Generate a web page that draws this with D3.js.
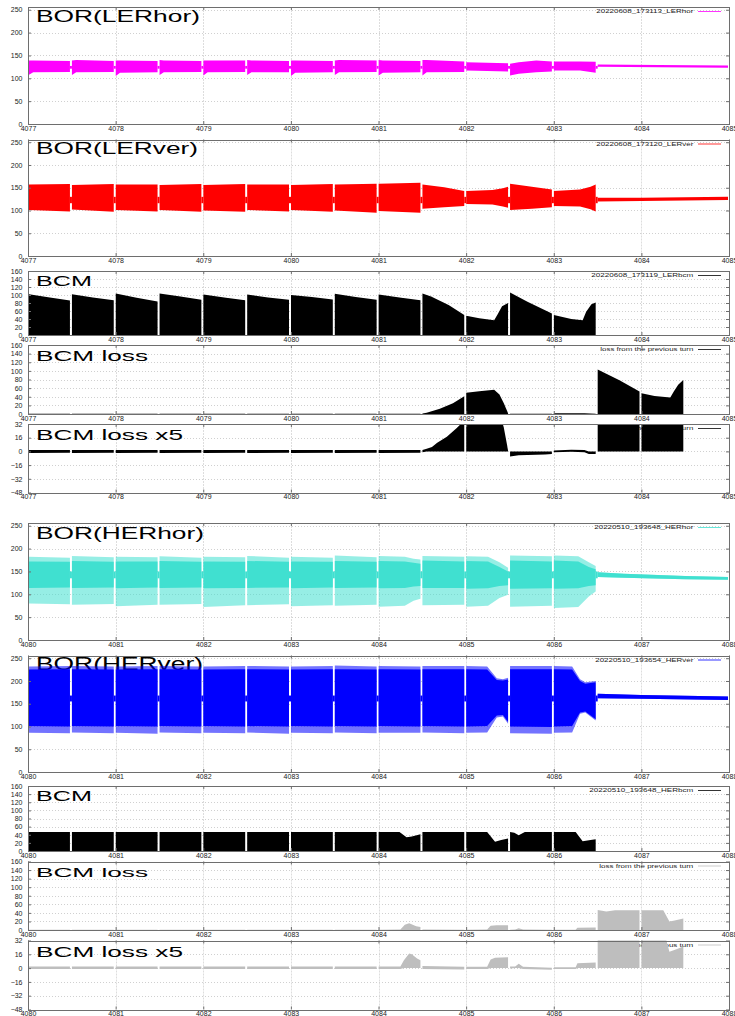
<!DOCTYPE html>
<html>
<head>
<meta charset="utf-8">
<script src="https://cdnjs.cloudflare.com/ajax/libs/d3/7.8.5/d3.min.js"></script>
<style>
  body { margin: 0; background: #fff; }
  text { font-family: "Liberation Sans", Arial, sans-serif; }
</style>
</head>
<body>
<svg id="chart" width="735" height="1016"></svg>
<script>
/*
  BOR / BCM turn-by-turn plots, LER (top five) and HER (bottom five)
  every train is a list of rows [turn, low, high],
  BOR(HER) rows carry an extra [coreLow, coreHigh] for the dense part of the band
*/

// x ticks
var lerTurns = [4077, 4078, 4079, 4080, 4081, 4082, 4083, 4084, 4085];
var herTurns = [4080, 4081, 4082, 4083, 4084, 4085, 4086, 4087, 4088];

// y ticks
var borTicks = [0, 50, 100, 150, 200, 250];
var bcmTicks = [0, 20, 40, 60, 80, 100, 120, 140, 160];
var lossTicks = [-48, -32, -16, 0, 16, 32];

// LER horizontal BOR
var lerHor = [
  [[4077.00,108,139],[4077.06,113,139],[4077.49,114,138]],
  [[4077.49,107,139],[4077.55,113,140],[4077.99,114,138]],
  [[4077.99,105,139],[4078.05,112,139],[4078.49,113,138]],
  [[4078.49,107,140],[4078.55,113,139],[4078.99,114,138]],
  [[4078.99,106,139],[4079.05,113,139],[4079.49,114,139]],
  [[4079.49,107,140],[4079.55,113,139],[4079.99,113,138]],
  [[4079.99,105,139],[4080.05,112,139],[4080.49,113,138]],
  [[4080.49,107,139],[4080.55,113,140],[4080.99,114,139]],
  [[4080.99,106,140],[4081.05,112,139],[4081.49,113,138]],
  [[4081.49,106,140],[4081.55,113,140],[4081.99,114,137]],
  [[4081.99,117,135],[4082.49,115,133]],
  [[4082.49,106,132],[4082.60,110,135],[4082.80,113,139],[4082.99,115,137]],
  [[4082.99,117,137],[4083.30,117,137],[4083.49,112,136]],
  [[4083.49,125,130],[4084.20,124,129],[4085.00,123,128]]
];
var lerHorGap = [121, 127];

// LER vertical BOR
var lerVer = [
  [[4077.00,101,157],[4077.49,98,158]],
  [[4077.49,102,156],[4077.99,97,158]],
  [[4077.99,101,157],[4078.49,98,157]],
  [[4078.49,101,156],[4078.99,97,158]],
  [[4078.99,100,156],[4079.49,97,158]],
  [[4079.49,101,157],[4079.99,98,157]],
  [[4079.99,101,156],[4080.49,97,158]],
  [[4080.49,100,157],[4080.99,95,159]],
  [[4080.99,99,159],[4081.49,95,161]],
  [[4081.49,104,157],[4081.75,107,151],[4081.99,110,143]],
  [[4081.99,114,143],[4082.30,113,145],[4082.42,109,149],[4082.49,106,152]],
  [[4082.49,101,159],[4082.75,104,152],[4082.99,107,146]],
  [[4082.99,110,143],[4083.30,109,146],[4083.42,103,152],[4083.49,98,157]],
  [[4083.49,120,128],[4084.00,121,128],[4085.00,123,130]]
];
var lerVerGap = [116, 130];

// LER bunch current
var lerBcm = [
  [[4077.00,0,102],[4077.25,0,94],[4077.49,0,86]],
  [[4077.49,0,102],[4077.74,0,94],[4077.99,0,87]],
  [[4077.99,0,104],[4078.24,0,93],[4078.49,0,84]],
  [[4078.49,0,104],[4078.74,0,96],[4078.99,0,88]],
  [[4078.99,0,101],[4079.24,0,94],[4079.49,0,87]],
  [[4079.49,0,101],[4079.74,0,94],[4079.99,0,88]],
  [[4079.99,0,100],[4080.24,0,95],[4080.49,0,89]],
  [[4080.49,0,103],[4080.74,0,95],[4080.99,0,88]],
  [[4080.99,0,101],[4081.24,0,94],[4081.49,0,87]],
  [[4081.49,0,104],[4081.60,0,96],[4081.80,0,75],[4081.99,0,50]],
  [[4081.99,0,48],[4082.15,0,42],[4082.32,0,37],[4082.36,0,52],[4082.41,0,72],[4082.49,0,80]],
  [[4082.49,0,106],[4082.70,0,83],[4082.99,0,54]],
  [[4082.99,0,50],[4083.20,0,40],[4083.33,0,37],[4083.37,0,58],[4083.43,0,77],[4083.49,0,81]]
];

// LER loss from the previous turn
var lerLoss = [
  [[4077.00,0,0.8],[4077.49,0,0.8]],
  [[4077.49,0,0.8],[4077.99,0,0.8]],
  [[4077.99,0,0.8],[4078.49,0,0.8]],
  [[4078.49,0,0.8],[4078.99,0,0.8]],
  [[4078.99,0,0.8],[4079.49,0,0.8]],
  [[4079.49,0,0.8],[4079.99,0,0.8]],
  [[4079.99,0,0.8],[4080.49,0,0.8]],
  [[4080.49,0,0.8],[4080.99,0,0.8]],
  [[4080.99,0,0.8],[4081.49,0,0.8]],
  [[4081.49,0,1],[4081.55,0,3],[4081.70,0,12],[4081.85,0,25],[4081.99,0,41]],
  [[4081.99,0,49],[4082.15,0,53],[4082.32,0,56],[4082.38,0,45],[4082.43,0,25],[4082.49,0,2]],
  [[4082.49,0,0.5],[4082.99,0,0.5]],
  [[4082.99,0,1.5],[4083.35,0,1.5],[4083.49,0,0.5]],
  [[4083.49,0,103],[4083.75,0,78],[4083.99,0,52]],
  [[4083.99,0,48],[4084.15,0,42],[4084.33,0,38],[4084.37,0,52],[4084.42,0,68],[4084.49,0,79]]
];

// LER loss, zoomed axis
var lerLoss5 = [
  [[4077.00,-2,1.5],[4077.49,-1.5,1.5]],
  [[4077.49,-2,1.5],[4077.99,-1.5,1.5]],
  [[4077.99,-2,1.5],[4078.49,-1.5,1.5]],
  [[4078.49,-2,1.5],[4078.99,-1.5,1.5]],
  [[4078.99,-2,1.5],[4079.49,-1.5,1.5]],
  [[4079.49,-2,1.5],[4079.99,-1.5,1.5]],
  [[4079.99,-2,1.5],[4080.49,-1.5,1.5]],
  [[4080.49,-2,1.5],[4080.99,-1.5,1.5]],
  [[4080.99,-2,1.5],[4081.49,-1.5,1.5]],
  [[4081.49,-1,1.5],[4081.55,0,3],[4081.61,0,5],[4081.67,0,10],[4081.78,0,17],[4081.89,0,27],[4081.95,0,33],[4081.99,0,40]],
  [[4081.99,0,49],[4082.32,0,56],[4082.38,0,45],[4082.43,0,28],[4082.49,0,1]],
  [[4082.49,-6,0],[4082.60,-4.5,0],[4082.90,-3.5,0],[4082.99,-3,0]],
  [[4082.99,-1,1],[4083.20,-0.5,2],[4083.35,-1,1.5],[4083.40,-3,0],[4083.49,-3,0]],
  [[4083.49,0,103],[4083.99,0,52]],
  [[4083.99,0,48],[4084.33,0,38],[4084.49,0,79]]
];

// HER horizontal BOR [turn, low, high, coreLow, coreHigh]
var herHor = [
  [[4080.00,80,182,114,172],[4080.49,78,180,115,171]],
  [[4080.49,77,184,114,173],[4080.99,79,181,115,171]],
  [[4080.99,74,182,113,172],[4081.49,77,181,115,172]],
  [[4081.49,77,183,114,173],[4081.99,79,180,115,171]],
  [[4081.99,72,182,113,172],[4082.49,76,181,114,171]],
  [[4082.49,76,184,114,173],[4082.99,78,180,115,171]],
  [[4082.99,74,182,113,172],[4083.49,76,180,115,171]],
  [[4083.49,75,185,114,173],[4083.99,77,181,115,171]],
  [[4083.99,73,184,113,173],[4084.30,75,182,114,172],[4084.40,86,178,117,169],[4084.49,90,176,118,167]],
  [[4084.49,76,184,114,174],[4084.99,77,182,114,172]],
  [[4084.99,73,183,112,173],[4085.25,75,182,113,172],[4085.38,92,170,118,160],[4085.49,99,158,120,150]],
  [[4085.49,73,185,112,174],[4085.99,75,183,113,172]],
  [[4085.99,70,185,112,174],[4086.28,72,183,113,172],[4086.40,95,170,118,160],[4086.49,106,162,120,155]],
  [[4086.49,138,148,138,148],[4086.80,136,145,136,145],[4087.50,133,140,133,140],[4088.00,132,138,132,138]]
];
var herHorGap = [135, 150];

// HER vertical BOR [turn, low, high, coreLow, coreHigh]
var herVer = [
  [[4080.00,86,232,101,225],[4080.49,85,233,100,226]],
  [[4080.49,87,233,101,226],[4080.99,85,232,100,225]],
  [[4080.99,86,232,101,225],[4081.49,84,233,100,226]],
  [[4081.49,87,233,101,226],[4081.99,85,232,100,225]],
  [[4081.99,86,232,101,225],[4082.49,85,233,100,226]],
  [[4082.49,87,233,101,226],[4082.99,84,232,100,225]],
  [[4082.99,86,232,101,225],[4083.49,85,233,100,226]],
  [[4083.49,87,234,101,226],[4083.99,85,232,100,225]],
  [[4083.99,86,233,101,226],[4084.49,86,232,100,225]],
  [[4084.49,87,233,101,226],[4084.99,85,233,100,226]],
  [[4084.99,86,233,100,226],[4085.24,87,232,101,225],[4085.35,120,206,124,202],[4085.42,122,204,125,201],[4085.49,106,207,110,203]],
  [[4085.49,85,233,100,226],[4085.99,84,233,99,226]],
  [[4085.99,86,233,100,226],[4086.21,87,232,101,225],[4086.30,128,204,131,200],[4086.36,131,197,133,194],[4086.49,113,200,116,197]],
  [[4086.49,162,172,162,172],[4087.00,161,169,161,169],[4088.00,158,166,158,166]]
];
var herVerGap = [155, 168];

// HER bunch current
var herBcm = [
  [[4080.00,0,47],[4080.49,0,47]],
  [[4080.49,0,47],[4080.99,0,47]],
  [[4080.99,0,47],[4081.49,0,47]],
  [[4081.49,0,47],[4081.99,0,47]],
  [[4081.99,0,47],[4082.49,0,47]],
  [[4082.49,0,47],[4082.99,0,47]],
  [[4082.99,0,47],[4083.49,0,47]],
  [[4083.49,0,47],[4083.99,0,47]],
  [[4083.99,0,47],[4084.24,0,47],[4084.32,0,34],[4084.38,0,36],[4084.49,0,41]],
  [[4084.49,0,47],[4084.99,0,47]],
  [[4084.99,0,47],[4085.24,0,47],[4085.33,0,23],[4085.40,0,27],[4085.49,0,31]],
  [[4085.49,0,47],[4085.55,0,45],[4085.60,0,39],[4085.67,0,47],[4085.99,0,47]],
  [[4085.99,0,47],[4086.25,0,47],[4086.33,0,24],[4086.42,0,27],[4086.49,0,29]]
];

// HER loss from the previous turn
var herLoss = [
  [[4080.00,0,0.6],[4080.49,0,0.6]],
  [[4080.49,0,0.6],[4080.99,0,0.6]],
  [[4080.99,0,0.6],[4081.49,0,0.6]],
  [[4081.49,0,0.6],[4081.99,0,0.6]],
  [[4081.99,0,0.6],[4082.49,0,0.6]],
  [[4082.49,0,0.6],[4082.99,0,0.6]],
  [[4082.99,0,0.6],[4083.49,0,0.6]],
  [[4083.49,0,0.6],[4083.99,0,0.6]],
  [[4083.99,0,0.5],[4084.25,0,1],[4084.30,0,12],[4084.35,0,16],[4084.43,0,9],[4084.49,0,7]],
  [[4084.49,0,1],[4084.99,0,0.5]],
  [[4084.99,0,0.5],[4085.24,0,1],[4085.28,0,10],[4085.35,0,11],[4085.49,0,11]],
  [[4085.49,0,0.5],[4085.56,0,1],[4085.60,0,4],[4085.65,0,1],[4085.99,0,0.5]],
  [[4085.99,0,0.5],[4086.25,0,0.5],[4086.27,0,5],[4086.49,0,6]],
  [[4086.49,0,47],[4086.60,0,43],[4086.70,0,46],[4086.99,0,46]],
  [[4086.99,0,46],[4087.25,0,46],[4087.32,0,20],[4087.38,0,22],[4087.49,0,27]]
];

// HER loss, zoomed axis
var herLoss5 = [
  [[4080.00,-1,2],[4080.49,-1,2]],
  [[4080.49,-1,2],[4080.99,-1,2]],
  [[4080.99,-1,2],[4081.49,-1,2]],
  [[4081.49,-1,2],[4081.99,-1,2]],
  [[4081.99,-1,2],[4082.49,-1,2]],
  [[4082.49,-1,2],[4082.99,-1,2]],
  [[4082.99,-1,2],[4083.49,-1,2]],
  [[4083.49,-1,2],[4083.99,-1,2]],
  [[4083.99,-1,2],[4084.25,-1,2],[4084.29,0,9],[4084.35,0,17],[4084.38,0,16],[4084.44,0,11],[4084.49,0,9]],
  [[4084.49,-1,2.5],[4084.99,-1.5,1.5]],
  [[4084.99,-1,1.5],[4085.24,-1,1.5],[4085.28,0,10],[4085.33,0,12],[4085.49,0,12.5]],
  [[4085.49,-0.5,2],[4085.56,0,2],[4085.60,0,5],[4085.65,-1,1.5],[4085.99,-2,0.5]],
  [[4085.99,-1,1],[4086.25,-1,1],[4086.27,0,5.5],[4086.49,0,6.5]],
  [[4086.49,0,47],[4086.99,0,46]],
  [[4086.99,0,46],[4087.25,0,46],[4087.32,0,19],[4087.40,0,22],[4087.49,0,25]]
];

// legend keys
var keys = ['20220608_173113_LERhor', '20220608_173120_LERver', '20220608_173119_LERbcm',
            'loss from the previous turn', '20220510_193648_HERhor', '20220510_193654_HERver',
            '20220510_193648_HERbcm'];

/*
  panel table: layout in pixels
*/
var X0 = 28, X1 = 729;
var panels = [
  {title: 'BOR(LERhor)', data: lerHor, gap: lerHorGap, turns: lerTurns, ticks: borTicks, dom: [0, 256],
   color: '#ff00ff', key: keys[0], top: 7, bottom: 124, tw: 164, ts: 16.5, tb: 21.7, kw: 97},
  {title: 'BOR(LERver)', data: lerVer, gap: lerVerGap, turns: lerTurns, ticks: borTicks, dom: [0, 256],
   color: '#ff0000', key: keys[1], top: 139.5, bottom: 256, tw: 162, ts: 16.5, tb: 154.2, kw: 97},
  {title: 'BCM', data: lerBcm, turns: lerTurns, ticks: bcmTicks, dom: [0, 160],
   color: '#000000', key: keys[2], top: 271, bottom: 335, tw: 56, ts: 14, tb: 285.5, kw: 102},
  {title: 'BCM loss', data: lerLoss, turns: lerTurns, ticks: bcmTicks, dom: [0, 160],
   color: '#000000', key: keys[3], top: 345, bottom: 414, tw: 112, ts: 14.5, tb: 360.8, kw: 93},
  {title: 'BCM loss x5', data: lerLoss5, turns: lerTurns, ticks: lossTicks, dom: [-48, 32],
   color: '#000000', key: keys[3], top: 424, bottom: 492.5, tw: 147, ts: 14, tb: 440.3, kw: 93},
  {title: 'BOR(HERhor)', data: herHor, gap: herHorGap, turns: herTurns, ticks: borTicks, dom: [0, 256],
   color: '#40e0d0', key: keys[4], top: 523, bottom: 640, tw: 168, ts: 17, tb: 538.5, kw: 99},
  {title: 'BOR(HERver)', data: herVer, gap: herVerGap, turns: herTurns, ticks: borTicks, dom: [0, 256],
   color: '#0000ff', key: keys[5], top: 655.5, bottom: 772, tw: 167, ts: 17.5, tb: 670, kw: 98},
  {title: 'BCM', data: herBcm, turns: herTurns, ticks: bcmTicks, dom: [0, 160],
   color: '#000000', key: keys[6], top: 786, bottom: 851, tw: 56, ts: 14, tb: 801, kw: 104},
  {title: 'BCM loss', data: herLoss, turns: herTurns, ticks: bcmTicks, dom: [0, 160],
   color: '#bebebe', key: keys[3], top: 861.5, bottom: 930, tw: 112, ts: 13, tb: 877, kw: 94},
  {title: 'BCM loss x5', data: herLoss5, turns: herTurns, ticks: lossTicks, dom: [-48, 32],
   color: '#bebebe', key: keys[3], top: 940.5, bottom: 1009.5, tw: 147, ts: 14, tb: 956.7, kw: 94}
];

var svg = d3.select('#chart');
var defs = svg.append('defs');
svg.append('rect').attr('width', 735).attr('height', 1016).attr('fill', '#fff');

// band between two columns of a train, 1px shaved off each end for the gap
function trainPath(x, y, train, lo, hi) {
  var last = train.length - 1;
  var pts = train.map(function(d, k) {
    var px = x(d[0]);
    if (k == 0) px += 1;
    if (k == last) px -= 1;
    return [px, y(d[lo]), y(d[hi])];
  });
  return d3.area()
    .x(function(d) { return d[0]; })
    .y0(function(d) { return d[1]; })
    .y1(function(d) { return d[2]; })(pts);
}

function drawPanel(p, i) {
  var x = d3.scaleLinear().domain([p.turns[0], p.turns[p.turns.length - 1]]).range([X0, X1]);
  var y = d3.scaleLinear().domain(p.dom).range([p.bottom, p.top]);
  var g = svg.append('g');

  defs.append('clipPath').attr('id', 'clip' + i)
    .append('rect')
    .attr('x', X0).attr('y', p.top)
    .attr('width', X1 - X0).attr('height', p.bottom - p.top);

  // grid
  g.selectAll('.hg').data(p.ticks).enter().append('line')
    .attr('x1', X0).attr('x2', X1)
    .attr('y1', function(d) { return Math.round(y(d)) + 0.5; })
    .attr('y2', function(d) { return Math.round(y(d)) + 0.5; })
    .attr('stroke', '#c4c4c4').attr('stroke-width', 0.8)
    .attr('stroke-dasharray', '1,2');
  g.selectAll('.vg').data(p.turns).enter().append('line')
    .attr('x1', function(d) { return Math.round(x(d)) + 0.5; })
    .attr('x2', function(d) { return Math.round(x(d)) + 0.5; })
    .attr('y1', p.top).attr('y2', p.bottom)
    .attr('stroke', '#d4d4d4').attr('stroke-width', 0.8)
    .attr('stroke-dasharray', '2,1');

  // key and title sit under the data
  g.append('text')
    .attr('x', 693.3 - p.kw).attr('y', p.top + 6.3)
    .attr('textLength', p.kw).attr('lengthAdjust', 'spacingAndGlyphs')
    .attr('font-size', 5.6).attr('fill', '#222')
    .text(p.key);
  g.append('line')
    .attr('x1', 698).attr('x2', 721)
    .attr('y1', p.top + 4.5).attr('y2', p.top + 4.5)
    .attr('stroke', p.color).attr('stroke-width', 0.8);
  g.append('text')
    .attr('x', 36).attr('y', p.tb)
    .attr('textLength', p.tw).attr('lengthAdjust', 'spacingAndGlyphs')
    .attr('font-size', p.ts).attr('fill', '#000')
    .text(p.title);

  // data
  var plot = g.append('g').attr('clip-path', 'url(#clip' + i + ')');
  var core = p.data[0][0].length > 3;
  plot.selectAll('.band').data(p.data).enter().append('path')
    .attr('d', function(t) { return trainPath(x, y, t, 1, 2); })
    .attr('fill', p.color)
    .attr('fill-opacity', core ? 0.55 : 1);
  if (core) {
    plot.selectAll('.core').data(p.data).enter().append('path')
      .attr('d', function(t) { return trainPath(x, y, t, 3, 4); })
      .attr('fill', p.color);
  }
  if (p.gap) {
    var joins = p.data.slice(1).map(function(t) { return t[0][0]; });
    plot.selectAll('.gap').data(joins).enter().append('rect')
      .attr('x', function(d) { return x(d) - 1; })
      .attr('width', 2)
      .attr('y', y(p.gap[1]))
      .attr('height', y(p.gap[0]) - y(p.gap[1]))
      .attr('fill', p.color);
  }

  // frame and ticks
  g.append('rect')
    .attr('x', X0 + 0.5).attr('y', Math.round(p.top) + 0.5)
    .attr('width', X1 - X0).attr('height', Math.round(p.bottom) - Math.round(p.top))
    .attr('fill', 'none').attr('stroke', '#6e6e6e').attr('stroke-width', 1);

  var ax = [
    {a: d3.axisBottom(x).tickValues(p.turns).tickFormat(d3.format('d')).tickPadding(1.7), t: 'translate(0,' + p.bottom + ')'},
    {a: d3.axisTop(x).tickValues(p.turns).tickFormat(''), t: 'translate(0,' + p.top + ')'},
    {a: d3.axisLeft(y).tickValues(p.ticks).tickFormat(d3.format('d')).tickPadding(5.5), t: 'translate(' + X0 + ',0)'},
    {a: d3.axisRight(y).tickValues(p.ticks).tickFormat(''), t: 'translate(' + X1 + ',0)'}
  ];
  ax.forEach(function(o) {
    var s = g.append('g').attr('transform', o.t).call(o.a.tickSize(-3));
    s.select('.domain').remove();
    s.selectAll('line').attr('stroke', '#6e6e6e');
    s.selectAll('text').attr('font-size', 7).attr('fill', '#222')
      .attr('font-family', '"Liberation Sans", Arial, sans-serif');
  });
}

panels.forEach(drawPanel);
</script>
</body>
</html>
